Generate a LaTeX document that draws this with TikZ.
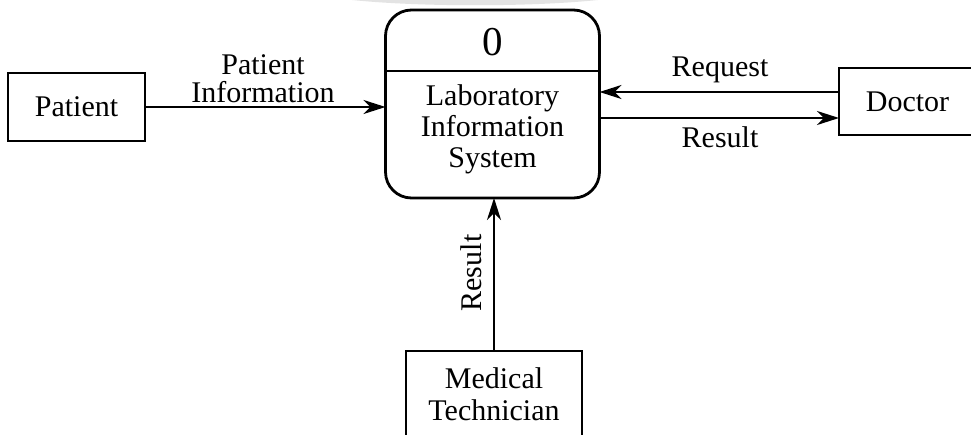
\documentclass[tikz,border=0pt]{standalone}
\usepackage{fontspec}
\setmainfont{Liberation Serif}
\usetikzlibrary{arrows.meta}
\begin{document}
\begin{tikzpicture}[x=1pt,y=-1pt,
  every node/.style={inner sep=0pt, outer sep=0pt},
  entity/.style={draw, line width=2.6pt, align=center,
    font=\fontsize{30}{32}\selectfont},
  flowlabel/.style={align=center, font=\fontsize{30}{28}\selectfont},
  flow/.style={line width=2.6pt, -{Stealth[length=22pt,width=14pt,inset=7pt]}}]
\useasboundingbox (0,0) rectangle (971,435);
% faint band along the top edge
\fill[gray!22] (352,0) .. controls (420,7) and (530,7) .. (598,0) -- cycle;

% process 0
\node[draw, line width=2.8pt, rounded corners=26pt,
      minimum width=214pt, minimum height=188pt] (proc) at (492.5,104) {};
\coordinate (divL) at (proc.west |- 0,71);
\coordinate (divR) at (proc.east |- 0,71);
\draw[line width=2pt] (divL) -- (divR);
\node[font=\fontsize{41}{41}\selectfont] (pnum) at (492.5,42) {0};
\node[align=center, font=\fontsize{30}{31}\selectfont] (ptext) at (492.5,129)
  {Laboratory\\Information\\System};

% external entities
\node[entity, minimum width=137pt, minimum height=68pt] (patient) at (76.5,107) {Patient};
\node[entity, minimum width=137pt, minimum height=67pt] (doctor) at (907.5,101.5) {Doctor};
\node[entity, minimum width=176pt, minimum height=86pt] (medtech) at (494,394)
  {Medical\\Technician};

% data flows
\draw[flow] (patient.east) -- (patient.east -| proc.west);
\draw[flow] ([yshift=9.5pt]doctor.west) -- ([yshift=9.5pt]doctor.west -| proc.east);
\draw[flow] ([yshift=-16.5pt]doctor.west -| proc.east) -- ([yshift=-16.5pt]doctor.west);
\draw[flow] (medtech.north) -- (medtech.north |- proc.south);

% flow labels
\node[flowlabel] (lpi) at (263,79) {Patient\\Information};
\node[flowlabel] (lreq) at (720,70) {Request};
\node[flowlabel] (lres) at (720,137) {Result};
\node[flowlabel, rotate=90] (lres2) at (471,273) {Result};
\end{tikzpicture}
\end{document}
